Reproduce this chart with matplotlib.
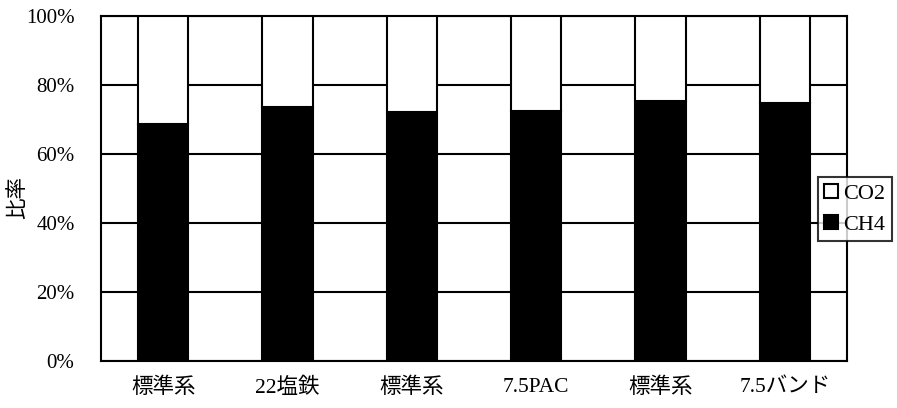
import matplotlib
matplotlib.use("Agg")
import matplotlib.pyplot as plt
import numpy as np

plt.rcParams['font.family'] = ['Liberation Serif', 'Noto Sans CJK JP']

categories = ['標準系', '22塩鉄', '標準系', '7.5PAC', '標準系', '7.5バンド']
ch4 = [68.8, 73.7, 72.3, 72.6, 75.4, 74.7]
co2 = [100 - v for v in ch4]
yticks = [0, 20, 40, 60, 80, 100]
ytick_labels = ['0%', '20%', '40%', '60%', '80%', '100%']

fig = plt.figure(figsize=(8.97, 4.08), dpi=100)
ax = fig.add_axes([101 / 897, 1 - 361 / 408, 746 / 897, 345 / 408])

x = np.arange(len(categories))
width = 0.405
ax.bar(x, ch4, width, color='black', edgecolor='black', linewidth=1.5,
       label='CH4', zorder=3)
ax.bar(x, co2, width, bottom=ch4, color='white', edgecolor='black',
       linewidth=1.5, label='CO2', zorder=3)

ax.set_xlim(-0.5, len(categories) - 0.5)
ax.set_ylim(0, 100)
ax.set_yticks(yticks)
ax.set_yticklabels(ytick_labels, fontsize=15)
ax.set_xticks(x)
ax.set_xticklabels(categories, fontsize=15.5)
ax.tick_params(axis='y', length=0, pad=19)
ax.tick_params(axis='x', length=0, pad=12)
ax.yaxis.grid(True, color='black', linewidth=1.5, zorder=1)
ax.set_axisbelow(True)
for s in ax.spines.values():
    s.set_linewidth(1.5)
    s.set_color('black')

# Axis title, placed at the far left of the figure
fig.text(18 / 897, 1 - 197 / 408, '比率', fontsize=15.5, rotation=90,
         ha='center', va='center')

handles, labels = ax.get_legend_handles_labels()
leg = fig.legend(handles[::-1], labels[::-1], loc='upper right',
                 bbox_to_anchor=(892 / 897, 1 - 177 / 408),
                 fontsize=16, frameon=True, fancybox=False,
                 handlelength=0.6, handleheight=0.6, handletextpad=0.25,
                 borderpad=0.3, labelspacing=0.5, borderaxespad=0)
leg.get_frame().set_edgecolor('black')
leg.get_frame().set_linewidth(1.5)
leg.set_zorder(10)

fig.savefig('out.png', dpi=100, facecolor='white')
